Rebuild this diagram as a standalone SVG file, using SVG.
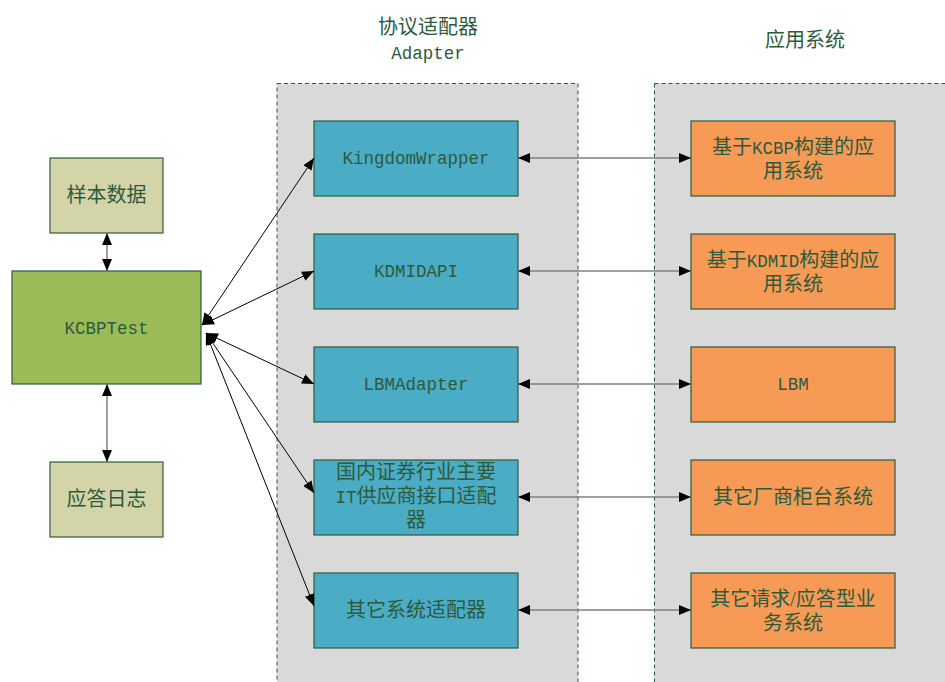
<svg xmlns="http://www.w3.org/2000/svg" width="945" height="682" viewBox="0 0 945 682">
<defs>
<marker id="ah" viewBox="0 0 12 10" refX="12" refY="5" markerWidth="12" markerHeight="10" markerUnits="userSpaceOnUse" orient="auto-start-reverse">
<path d="M0,0 L12,5 L0,10 Z" fill="#000"/>
</marker>
<style>
.cont{fill:#d9d9d9;stroke:#2e5a3c;stroke-width:1;stroke-dasharray:4,3}
.box{stroke:#2e5a3c;stroke-width:1.2}
.ad{fill:#4bacc6}
.ap{fill:#f79a55}
.kc{fill:#9bbb59}
.dt{fill:#d4d4a9}
text{fill:#2e5a3c;text-anchor:middle;font-family:"Liberation Serif","Noto Sans CJK SC",serif;font-size:20px}
.m{font-family:"Liberation Mono","Noto Sans CJK SC",monospace;font-size:17.5px}
.g{stroke:#7f7f7f;stroke-width:1.5;fill:none}
.k{stroke:#000;stroke-width:1;fill:none}
</style>
</defs>
<rect width="945" height="682" fill="#fff"/>
<g id="adapter-container">
<rect class="cont" x="277" y="83.5" width="301" height="620"/>
<text x="428" y="34">协议适配器</text>
<text class="m" x="428" y="59">Adapter</text>
</g>
<g id="app-container">
<rect class="cont" x="654.5" y="83.5" width="320" height="620"/>
<text x="805" y="47">应用系统</text>
</g>
<g id="sample-data">
<rect class="box dt" x="50" y="158" width="113" height="75"/>
<text x="106.5" y="202">样本数据</text>
</g>
<g id="kcbptest">
<rect class="box kc" x="12" y="271" width="189" height="113"/>
<text class="m" x="106.5" y="334">KCBPTest</text>
</g>
<g id="response-log">
<rect class="box dt" x="50" y="462" width="113" height="75"/>
<text x="106.5" y="506">应答日志</text>
</g>
<g id="kingdomwrapper">
<rect class="box ad" x="314" y="121" width="204" height="75"/>
<text class="m" x="416" y="164">KingdomWrapper</text>
</g>
<g id="kdmidapi">
<rect class="box ad" x="314" y="234" width="204" height="75"/>
<text class="m" x="416" y="277">KDMIDAPI</text>
</g>
<g id="lbmadapter">
<rect class="box ad" x="314" y="347" width="204" height="75"/>
<text class="m" x="416" y="390">LBMAdapter</text>
</g>
<g id="it-adapter">
<rect class="box ad" x="314" y="460" width="204" height="75"/>
<text x="416" y="479">国内证券行业主要</text>
<text x="416" y="503"><tspan class="m">IT</tspan>供应商接口适配</text>
<text x="416" y="527">器</text>
</g>
<g id="other-adapter">
<rect class="box ad" x="314" y="573" width="204" height="75"/>
<text x="416" y="617">其它系统适配器</text>
</g>
<g id="kcbp-app">
<rect class="box ap" x="691" y="121" width="204" height="75"/>
<text x="793" y="154">基于<tspan class="m">KCBP</tspan>构建的应</text>
<text x="793" y="178">用系统</text>
</g>
<g id="kdmid-app">
<rect class="box ap" x="691" y="234" width="204" height="75"/>
<text x="793" y="267">基于<tspan class="m">KDMID</tspan>构建的应</text>
<text x="793" y="291">用系统</text>
</g>
<g id="lbm">
<rect class="box ap" x="691" y="347" width="204" height="75"/>
<text class="m" x="793" y="390">LBM</text>
</g>
<g id="other-counter">
<rect class="box ap" x="691" y="460" width="204" height="75"/>
<text x="793" y="504">其它厂商柜台系统</text>
</g>
<g id="other-req">
<rect class="box ap" x="691" y="573" width="204" height="75"/>
<text x="793" y="606">其它请求/应答型业</text>
<text x="793" y="630">务系统</text>
</g>
<g id="connectors">
<line class="g" x1="107" y1="233" x2="107" y2="271" marker-start="url(#ah)" marker-end="url(#ah)"/>
<line class="g" x1="107" y1="384" x2="107" y2="462" marker-start="url(#ah)" marker-end="url(#ah)"/>
<line class="k" x1="202" y1="325" x2="314" y2="158" marker-start="url(#ah)" marker-end="url(#ah)"/>
<line class="k" x1="202" y1="325" x2="314" y2="271" marker-start="url(#ah)" marker-end="url(#ah)"/>
<line class="k" x1="206" y1="333" x2="314" y2="384" marker-start="url(#ah)" marker-end="url(#ah)"/>
<line class="k" x1="206" y1="333" x2="314" y2="493" marker-start="url(#ah)" marker-end="url(#ah)"/>
<line class="k" x1="206" y1="333" x2="314" y2="606" marker-start="url(#ah)" marker-end="url(#ah)"/>
<line class="g" x1="518" y1="158" x2="691" y2="158" marker-start="url(#ah)" marker-end="url(#ah)"/>
<line class="g" x1="518" y1="271" x2="691" y2="271" marker-start="url(#ah)" marker-end="url(#ah)"/>
<line class="g" x1="518" y1="384" x2="691" y2="384" marker-start="url(#ah)" marker-end="url(#ah)"/>
<line class="g" x1="518" y1="497" x2="691" y2="497" marker-start="url(#ah)" marker-end="url(#ah)"/>
<line class="g" x1="518" y1="610" x2="691" y2="610" marker-start="url(#ah)" marker-end="url(#ah)"/>
</g>
</svg>
